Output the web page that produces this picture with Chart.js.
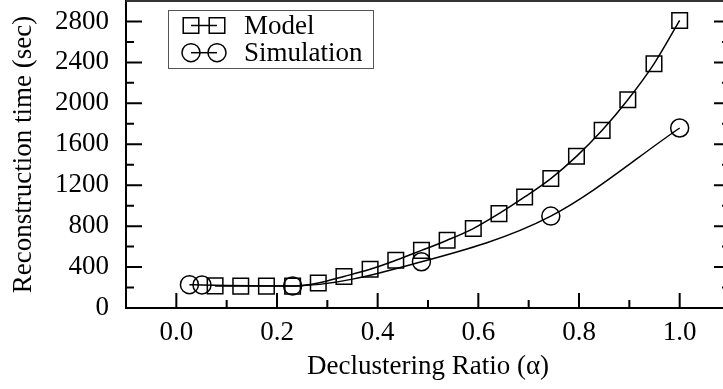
<!DOCTYPE html>
<html>
<head>
<meta charset="utf-8">
<script src="https://cdn.jsdelivr.net/npm/chart.js@4.4.0/dist/chart.umd.min.js"></script>
<style>
  html, body { margin: 0; padding: 0; background: #fff; overflow: hidden; }
  #wrap { width: 740px; height: 389px; }
</style>
</head>
<body>
<div id="wrap"><canvas id="chart" width="740" height="389"></canvas></div>
<script>
// datos
const modelX = [0.077, 0.128, 0.179, 0.231, 0.282, 0.333, 0.385, 0.436, 0.487, 0.538,
                0.590, 0.641, 0.692, 0.744, 0.795, 0.846, 0.897, 0.949, 1.0];
const modelY = [216, 214, 214, 214, 245, 308, 378, 466, 563, 662,
                776, 922, 1085, 1265, 1482, 1736, 2035, 2386, 2810];
const simX = [0.026, 0.051, 0.231, 0.487, 0.744, 1.0];
const simY = [228, 225, 216, 452, 898, 1759];

const seriesNames = ["Model", "Simulation"];
const xTicks = [0, 0.2, 0.4, 0.6, 0.8, 1.0];
const xMinor = [0.1, 0.3, 0.5, 0.7, 0.9];
const yTicks = [0, 400, 800, 1200, 1600, 2000, 2400, 2800];
const yMinor = [200, 600, 1000, 1400, 1800, 2200, 2600];
const xTitle = "Declustering Ratio (α)";
const yTitle = "Reconstruction time (sec)";

const FONT = "'Liberation Serif', 'Times New Roman', serif";
Chart.defaults.font.family = FONT;
Chart.defaults.font.size = 27;
Chart.defaults.color = "#000";

function toPoints(xs, ys) {
    return xs.map((x, i) => ({ x: x, y: ys[i] }));
}

// marcas de ejes hacia dentro + borde superior
const innerTicks = {
    id: "innerTicks",
    afterDatasetsDraw(chart) {
        const { ctx, chartArea: a, scales } = chart;
        ctx.save();
        ctx.strokeStyle = "#000";
        ctx.lineWidth = 2;
        ctx.beginPath();
        const yMark = (v, len) => {
            const p = scales.y.getPixelForValue(v);
            ctx.moveTo(a.left, p); ctx.lineTo(a.left + len, p);
            ctx.moveTo(a.right, p); ctx.lineTo(a.right - len, p);
        };
        const xMark = (v, len) => {
            const p = scales.x.getPixelForValue(v);
            ctx.moveTo(p, a.bottom); ctx.lineTo(p, a.bottom - len);
        };
        yTicks.forEach(v => yMark(v, 16));
        yMinor.forEach(v => yMark(v, 8));
        xTicks.forEach(v => xMark(v, 15));
        xMinor.forEach(v => xMark(v, 8));
        ctx.stroke();

        ctx.strokeStyle = "#333";
        ctx.beginPath();
        ctx.moveTo(a.left, a.top);
        ctx.lineTo(a.right, a.top);
        ctx.stroke();
        ctx.restore();
    }
};

// leyenda con recuadro dentro del area
const boxLegend = {
    id: "boxLegend",
    afterDraw(chart) {
        const { ctx, chartArea: a } = chart;
        const bx = a.left + 42, by = a.top + 9, bw = 205, bh = 58;
        ctx.save();
        ctx.fillStyle = "#fff";
        ctx.fillRect(bx, by, bw, bh);
        ctx.strokeStyle = "#555";
        ctx.lineWidth = 1;
        ctx.strokeRect(bx + 0.5, by + 0.5, bw, bh);

        chart.data.datasets.forEach((ds, i) => {
            const y = by + 15.5 + i * 27.2;
            const x1 = bx + 23, x2 = bx + 49;
            ctx.strokeStyle = "#000";
            ctx.lineWidth = ds.borderWidth;
            ctx.beginPath();
            ctx.moveTo(x1, y);
            ctx.lineTo(x2, y);
            ctx.stroke();
            ctx.fillStyle = "rgba(0,0,0,0)";
            const opts = { pointStyle: ds.pointStyle, radius: ds.pointRadius, borderWidth: ds.pointBorderWidth, rotation: 0 };
            Chart.helpers.drawPoint(ctx, opts, x1, y);
            Chart.helpers.drawPoint(ctx, opts, x2, y);
            ctx.fillStyle = "#000";
            ctx.font = "27px " + FONT;
            ctx.textBaseline = "alphabetic";
            ctx.textAlign = "left";
            ctx.fillText(ds.label, bx + 76, y + 8.5);
        });
        ctx.restore();
    }
};

const ctx = document.getElementById("chart").getContext("2d");

new Chart(ctx, {
    type: "line",
    data: {
        datasets: [
            {
                label: seriesNames[0],
                data: toPoints(modelX, modelY),
                borderColor: "#000",
                borderWidth: 1.5,
                pointStyle: "rect",
                pointRadius: 11,
                pointBorderWidth: 1.5,
                pointBorderColor: "#000",
                pointBackgroundColor: "rgba(0,0,0,0)",
                cubicInterpolationMode: "monotone",
                fill: false
            },
            {
                label: seriesNames[1],
                data: toPoints(simX, simY),
                borderColor: "#000",
                borderWidth: 1.5,
                pointStyle: "circle",
                pointRadius: 9,
                pointBorderWidth: 1.5,
                pointBorderColor: "#000",
                pointBackgroundColor: "rgba(0,0,0,0)",
                cubicInterpolationMode: "monotone",
                fill: false
            }
        ]
    },
    options: {
        responsive: false,
        animation: false,
        layout: { autoPadding: false, padding: { left: 0, right: 10, top: 1, bottom: 0 } },
        plugins: {
            legend: { display: false },
            tooltip: { enabled: false }
        },
        scales: {
            x: {
                type: "linear",
                min: -0.1,
                max: 1.1,
                afterBuildTicks: s => { s.ticks = xTicks.map(v => ({ value: v })); },
                afterFit: s => {
                    s.height = 81;
                    s.paddingLeft = 0; s.paddingRight = 0;
                },
                ticks: {
                    padding: 9,
                    autoSkip: false,
                    maxRotation: 0,
                    callback: v => Number(v).toFixed(1)
                },
                grid: { display: false, drawTicks: false },
                border: { display: true, color: "#000", width: 2 },
                title: { display: true, text: xTitle, padding: { top: 0, bottom: 6 } }
            },
            y: {
                type: "linear",
                min: 0,
                max: 3000,
                afterBuildTicks: s => { s.ticks = yTicks.map(v => ({ value: v })); },
                afterFit: s => {
                    s.width = 126;
                    s.paddingTop = 0; s.paddingBottom = 0;
                },
                ticks: {
                    padding: 17,
                    autoSkip: false,
                    callback: v => String(v)
                },
                grid: { display: false, drawTicks: false },
                border: { display: true, color: "#000", width: 2 },
                title: { display: true, text: yTitle, padding: { top: 8, bottom: 0 } }
            }
        }
    },
    plugins: [innerTicks, boxLegend]
});
</script>
</body>
</html>
